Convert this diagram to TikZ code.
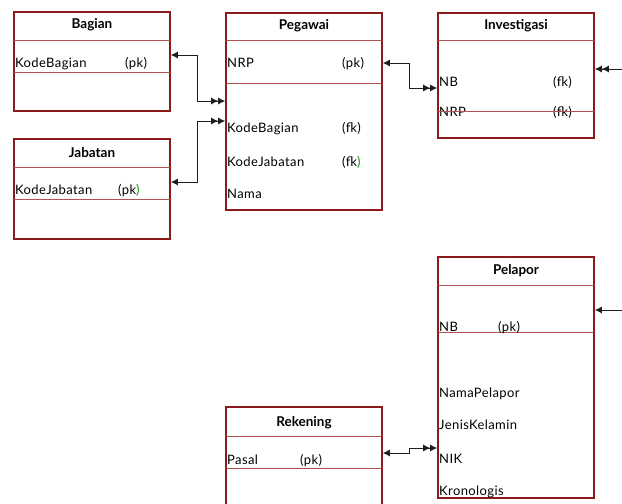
\documentclass[tikz,border=0pt]{standalone}
\usepackage{fontspec}
\setmainfont{Lato}
\newfontfamily\attrfont[LetterSpace=3]{Lato}
\usetikzlibrary{arrows.meta}
\definecolor{boxred}{RGB}{139,26,26}
\definecolor{sepred}{RGB}{178,84,84}
\definecolor{conngray}{RGB}{30,30,30}
\definecolor{parengreen}{RGB}{0,150,0}
\tikzset{
  entity/.style={draw=boxred, line width=1.6pt, rectangle, inner sep=0pt, outer sep=0pt, anchor=north west, minimum width=156pt},
  sepline/.style={draw=sepred, line width=1pt},
  title/.style={font=\fontsize{13.5}{15}\selectfont\bfseries, inner sep=0pt, anchor=base},
  attr/.style={font=\attrfont\fontsize{13}{15}\selectfont, inner sep=0pt, anchor=base west},
  conn/.style={draw=conngray, line width=1pt},
  tip/.tip={Latex[length=7pt,width=7pt]},
}
\begin{document}
\begin{tikzpicture}[x=1pt,y=-1pt]
\useasboundingbox (0,0) rectangle (622,504);
\clip (0,0) rectangle (622,504);
% Bagian
\node[entity, minimum height=99pt] (bagian) at (14,12) {};
\draw[sepline] (bagian.west |- 0,40) -- (bagian.east |- 0,40);
\draw[sepline] (bagian.west |- 0,72) -- (bagian.east |- 0,72);
\node[title] (bagianT) at (92,28.5) {Bagian};
\node[attr] (bagianA1) at (15,67) {KodeBagian};
\node[attr] (bagianA1k) at (125,67) {(pk)};
% Jabatan
\node[entity, minimum height=100pt] (jabatan) at (14,139) {};
\draw[sepline] (jabatan.west |- 0,167) -- (jabatan.east |- 0,167);
\draw[sepline] (jabatan.west |- 0,199) -- (jabatan.east |- 0,199);
\node[title] (jabatanT) at (92,157) {Jabatan};
\node[attr] (jabatanA1) at (15,194) {KodeJabatan};
\node[attr] (jabatanA1k) at (118,194) {(pk\textcolor{parengreen}{)}};
% Pegawai
\node[entity, minimum height=197pt] (pegawai) at (226,13) {};
\draw[sepline] (pegawai.west |- 0,40) -- (pegawai.east |- 0,40);
\draw[sepline] (pegawai.west |- 0,83) -- (pegawai.east |- 0,83);
\node[title] (pegawaiT) at (304,29) {Pegawai};
\node[attr] (pegawaiA1) at (227,67) {NRP};
\node[attr] (pegawaiA1k) at (342,67) {(pk)};
\node[attr] (pegawaiA2) at (227,132.5) {KodeBagian};
\node[attr] (pegawaiA2k) at (342,132.5) {(fk)};
\node[attr] (pegawaiA3) at (227,166) {KodeJabatan};
\node[attr] (pegawaiA3k) at (342,166) {(fk\textcolor{parengreen}{)}};
\node[attr] (pegawaiA4) at (227,198) {Nama};
% Investigasi
\node[entity, minimum height=125pt] (investigasi) at (438,13) {};
\draw[sepline] (investigasi.west |- 0,40) -- (investigasi.east |- 0,40);
\node[title] (investigasiT) at (516,29) {Investigasi};
\node[attr] (investigasiA1) at (439,86) {NB};
\node[attr] (investigasiA1k) at (553,86) {(fk)};
\node[attr] (investigasiA2) at (439,116) {NRP};
\node[attr] (investigasiA2k) at (553,116) {(fk)};
\draw[sepline] (investigasi.west |- 0,111) -- (investigasi.east |- 0,111);
% Pelapor
\node[entity, minimum height=241pt] (pelapor) at (438,257) {};
\draw[sepline] (pelapor.west |- 0,285) -- (pelapor.east |- 0,285);
\draw[sepline] (pelapor.west |- 0,332) -- (pelapor.east |- 0,332);
\node[title] (pelaporT) at (516,274) {Pelapor};
\node[attr] (pelaporA1) at (439,331) {NB};
\node[attr] (pelaporA1k) at (498,331) {(pk)};
\node[attr] (pelaporA2) at (439,397) {NamaPelapor};
\node[attr] (pelaporA3) at (439,429) {JenisKelamin};
\node[attr] (pelaporA4) at (439,463) {NIK};
\node[attr] (pelaporA5) at (439,495) {Kronologis};
% Rekening
\node[entity, minimum height=120pt] (rekening) at (226,407) {};
\draw[sepline] (rekening.west |- 0,436) -- (rekening.east |- 0,436);
\draw[sepline] (rekening.west |- 0,468) -- (rekening.east |- 0,468);
\node[title] (rekeningT) at (304,426) {Rekening};
\node[attr] (rekeningA1) at (227,464) {Pasal};
\node[attr] (rekeningA1k) at (300,464) {(pk)};
% free ends at right edge
\coordinate (rightA) at (622,69);
\coordinate (rightB) at (622,310);
% connectors
\draw[conn, {tip}-{tip[sep=0pt]tip}] ([xshift=0.8pt]bagian.east |- 0,55) -- ++(27,0) |- ([xshift=-0.8pt]pegawai.west |- 0,101);
\draw[conn, {tip}-{tip[sep=0pt]tip}] ([xshift=0.8pt]jabatan.east |- 0,182) -- ++(27,0) |- ([xshift=-0.8pt]pegawai.west |- 0,121);
\draw[conn, {tip}-{tip[sep=0pt]tip}] ([xshift=0.8pt]pegawai.east |- 0,63) -- ++(27,0) |- ([xshift=-0.8pt]investigasi.west |- 0,88);
\draw[conn, {tip}-{tip[sep=0pt]tip}] ([xshift=0.8pt]rekening.east |- 0,453) -- ++(27,0) |- ([xshift=-0.8pt]pelapor.west |- 0,448);
\draw[conn, -{tip[sep=0pt]tip}] (rightA) -- ([xshift=0.8pt]investigasi.east |- rightA);
\draw[conn, -{tip}] (rightB) -- ([xshift=0.8pt]pelapor.east |- rightB);
\end{tikzpicture}
\end{document}
